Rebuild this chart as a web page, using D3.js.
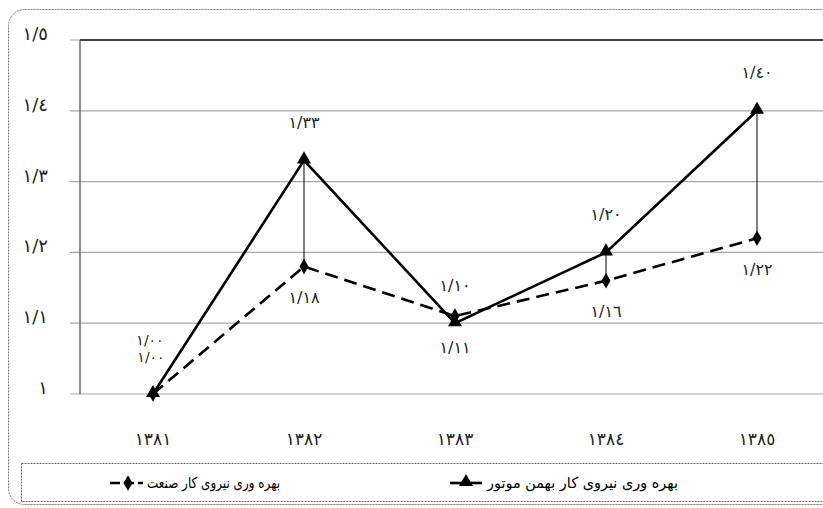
<!DOCTYPE html>
<html><head><meta charset="utf-8">
<script src="https://cdn.jsdelivr.net/npm/d3@7"></script>
<style>html,body{margin:0;padding:0;background:#fff;overflow:hidden}</style>
</head><body>
<svg id="c" width="823" height="508"></svg>
<script>
const years = ["1381","1382","1383","1384","1385"];
const bahmanMotor = [1.00, 1.33, 1.10, 1.20, 1.40];
const industry = [1.00, 1.18, 1.11, 1.16, 1.22];
const yTicks = [1.0, 1.1, 1.2, 1.3, 1.4, 1.5];
const seriesNames = ["بهره وری نیروی کار صنعت", "بهره وری نیروی کار بهمن موتور"];

const AR = "٠١٢٣٤٥٦٧٨٩";
const toAr = s => s.replace(/[0-9]/g, d => AR[+d]).replace(/\./g, "/");
const FONT = "DejaVu Sans";

const svg = d3.select("#c");
svg.append("rect").attr("width", 823).attr("height", 508).attr("fill", "#fff");

// outer rounded frame
svg.append("rect").attr("x", 8.5).attr("y", 9.5).attr("width", 840).attr("height", 495)
  .attr("rx", 16).attr("fill", "none").attr("stroke", "#777").attr("stroke-width", 1)
  .attr("stroke-dasharray", "2,1");

const x = d3.scalePoint().domain(years).range([153, 757]);
const y = d3.scaleLinear().domain([1, 1.5]).range([394, 40]);
const left = 80, right = 840;

// gridlines
svg.append("g").selectAll("line").data(yTicks).join("line")
  .attr("x1", left - 10).attr("x2", right)
  .attr("y1", d => y(d)).attr("y2", d => y(d))
  .attr("stroke", "#a8a8a8").attr("stroke-width", 1.2);
// top frame and left axis
svg.append("line").attr("x1", left).attr("x2", right).attr("y1", y(1.5)).attr("y2", y(1.5))
  .attr("stroke", "#111").attr("stroke-width", 1.3);
svg.append("line").attr("x1", left).attr("x2", left).attr("y1", y(1.5)).attr("y2", y(1))
  .attr("stroke", "#555").attr("stroke-width", 1.3);

// y labels
svg.append("g").selectAll("text").data(yTicks).join("text")
  .attr("x", 48).attr("y", d => y(d) - 5)
  .attr("text-anchor", "end").attr("dominant-baseline", "middle")
  .attr("font-family", FONT).attr("font-size", 18).attr("fill", "#222")
  .text(d => toAr(d === 1 ? "1" : d3.format(".1f")(d)));

// x labels
svg.append("g").selectAll("text").data(years).join("text")
  .attr("x", d => x(d)).attr("y", 440)
  .attr("text-anchor", "middle").attr("dominant-baseline", "middle")
  .attr("font-family", FONT).attr("font-size", 17).attr("fill", "#222")
  .text(d => toAr(d));

// high-low lines
svg.append("g").selectAll("line").data(years).join("line")
  .attr("x1", d => x(d)).attr("x2", d => x(d))
  .attr("y1", (d, i) => y(bahmanMotor[i])).attr("y2", (d, i) => y(industry[i]))
  .attr("stroke", "#000").attr("stroke-width", 1);

const line = d3.line().x((d, i) => x(years[i])).y(d => y(d));
svg.append("path").datum(industry).attr("d", line).attr("fill", "none")
  .attr("stroke", "#000").attr("stroke-width", 2.6).attr("stroke-dasharray", "13,7");
svg.append("path").datum(bahmanMotor).attr("d", line).attr("fill", "none")
  .attr("stroke", "#000").attr("stroke-width", 2.6);

const tri = d3.symbol().type(d3.symbolTriangle).size(85);
const dia = d3.symbol().type(d3.symbolDiamond).size(70);
svg.append("g").selectAll("path").data(industry).join("path")
  .attr("d", dia).attr("transform", (d, i) => `translate(${x(years[i])},${y(d)})`).attr("fill", "#000");
svg.append("g").selectAll("path").data(bahmanMotor).join("path")
  .attr("d", tri).attr("transform", (d, i) => `translate(${x(years[i])},${y(d) - 1})`).attr("fill", "#000");

// data labels
const fmt = v => toAr(d3.format(".2f")(v));
const lbl = svg.append("g").attr("font-family", FONT).attr("font-size", 16).attr("fill", "#222")
  .attr("text-anchor", "middle").attr("dominant-baseline", "middle");
bahmanMotor.forEach((v, i) => {
  const px = x(years[i]), py = y(v);
  const first = i === 0;
  lbl.append("text").attr("x", first ? px - 3 : px).attr("y", first ? py - 53 : py - 37)
    .attr("font-size", first ? 14 : null).text(fmt(v));
});
industry.forEach((v, i) => {
  const px = x(years[i]), py = y(v);
  const first = i === 0;
  lbl.append("text").attr("x", first ? px - 2 : px).attr("y", first ? py - 36 : py + 32)
    .attr("font-size", first ? 14 : null).text(fmt(v));
});

// legend
svg.append("rect").attr("x", 21.5).attr("y", 463.5).attr("width", 830).attr("height", 38)
  .attr("fill", "none").attr("stroke", "#666").attr("stroke-width", 1).attr("stroke-dasharray", "2,1");
const leg = svg.append("g").attr("font-family", FONT).attr("font-size", 15).attr("fill", "#000");
// entry 1: industry
const e1x = 110;
leg.append("line").attr("x1", e1x).attr("x2", e1x + 33).attr("y1", 483).attr("y2", 483)
  .attr("stroke", "#000").attr("stroke-width", 2.6).attr("stroke-dasharray", "10,4");
leg.append("path").attr("d", dia).attr("transform", `translate(${e1x + 18},483)`);
leg.append("text").attr("x", 147).attr("y", 483).attr("text-anchor", "start")
  .attr("textLength", 133).attr("lengthAdjust", "spacingAndGlyphs")
  .attr("dominant-baseline", "middle").text(seriesNames[0]);
// entry 2: bahman motor
const e2x = 450;
leg.append("line").attr("x1", e2x).attr("x2", e2x + 32).attr("y1", 483).attr("y2", 483)
  .attr("stroke", "#000").attr("stroke-width", 2.6);
leg.append("path").attr("d", tri).attr("transform", `translate(${e2x + 16},482)`);
leg.append("text").attr("x", 487).attr("y", 483).attr("text-anchor", "start")
  .attr("textLength", 191).attr("lengthAdjust", "spacingAndGlyphs")
  .attr("dominant-baseline", "middle").text(seriesNames[1]);
</script>
</body></html>
